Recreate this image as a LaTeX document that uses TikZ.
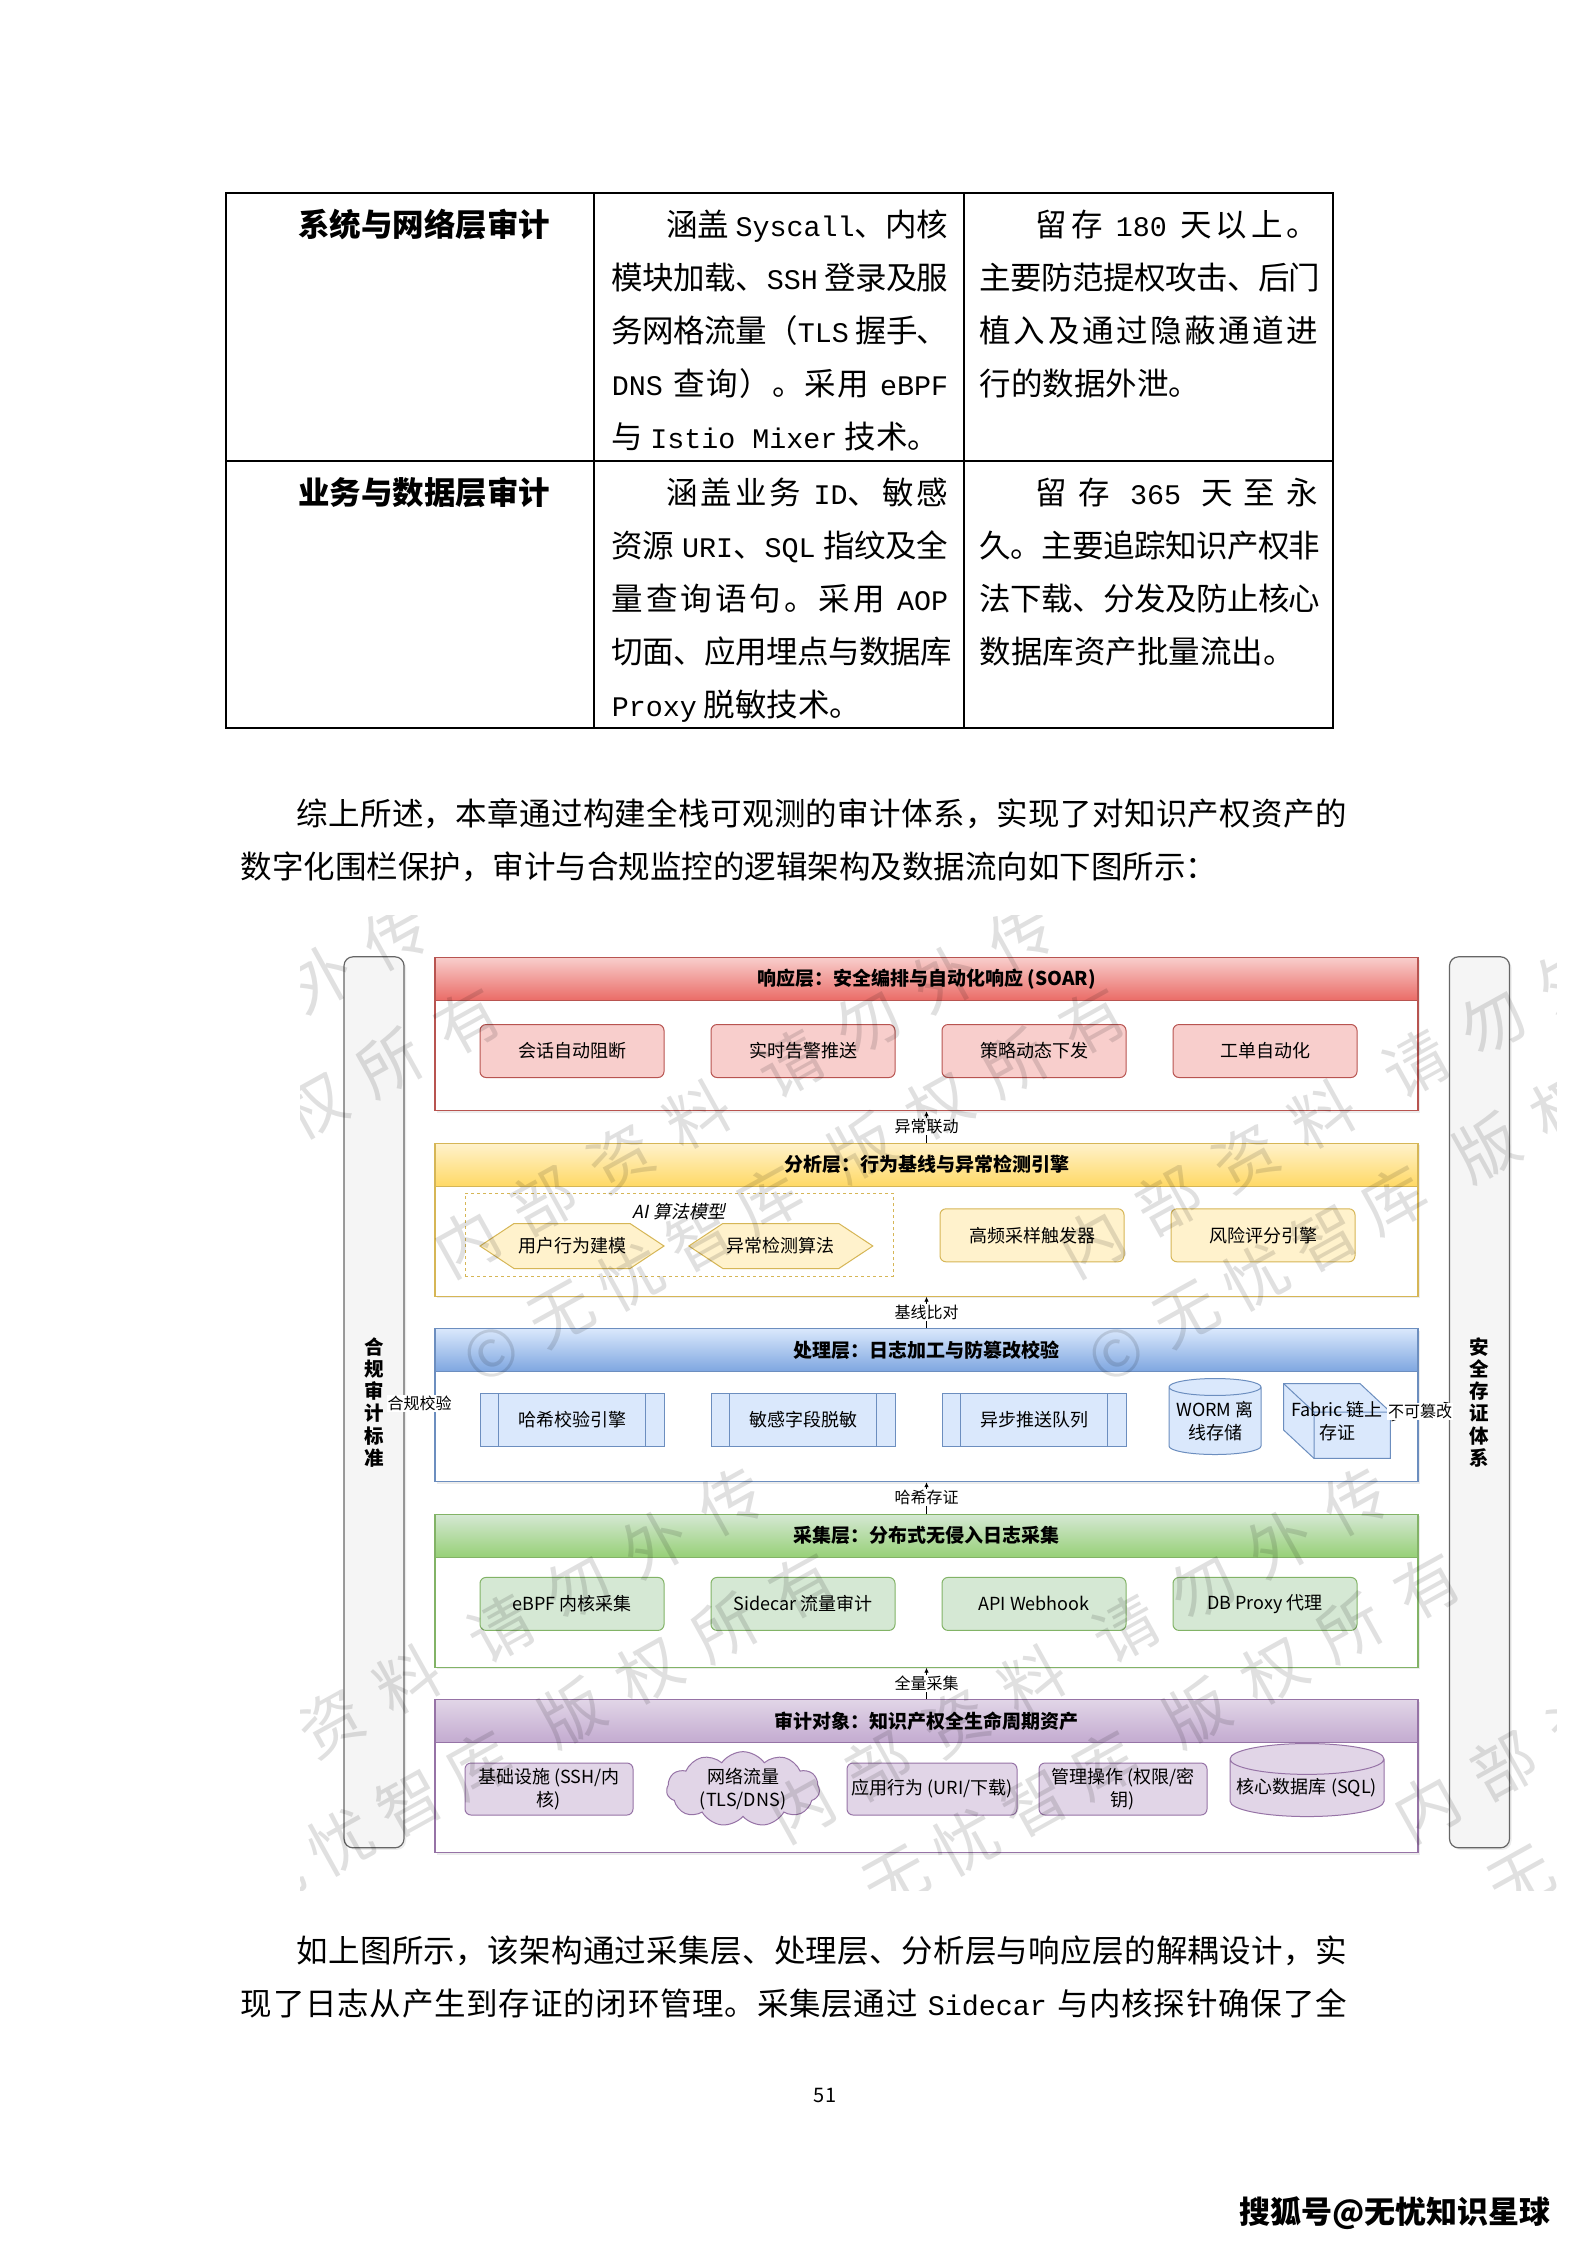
\documentclass[tikz,border=0pt]{standalone}
\usepackage{fontspec}
\setmainfont{Noto Sans CJK SC}
\newfontfamily\latinmono{Liberation Mono}[Scale=0.9]
\newfontfamily\dgfont{Noto Sans CJK SC}
\newfontfamily\dgslant{Noto Sans CJK SC}[FakeSlant=0.2]
\usetikzlibrary{arrows.meta,positioning,shapes.geometric,shapes.symbols,shadows}
% classes for CJK glyphs, so that justified lines spread evenly
\count255="4E00
\loop
  \XeTeXcharclass\count255=1
  \advance\count255 by 1
\ifnum\count255<"A000 \repeat
\XeTeXcharclass"3001=3 \XeTeXcharclass"3002=3 \XeTeXcharclass"FF0C=3
\XeTeXcharclass"FF1A=3 \XeTeXcharclass"FF09=3 \XeTeXcharclass"FF08=2
\XeTeXinterchartokenstate=1
\XeTeXinterchartoks 1 1 = {\hskip 0pt plus 3pt minus 0.6pt}
\XeTeXinterchartoks 1 2 = {\hskip 0pt plus 3pt minus 0.6pt}
\XeTeXinterchartoks 1 3 = {\hskip 0pt plus 3pt minus 0.6pt}
\XeTeXinterchartoks 3 1 = {\hskip 0pt plus 3pt minus 0.6pt}
\XeTeXinterchartoks 2 1 = {\hskip 0pt plus 3pt minus 0.6pt}
\XeTeXinterchartoks 3 3 = {\hskip 0pt plus 3pt minus 0.6pt}
\XeTeXinterchartoks 3 2 = {\hskip 0pt plus 3pt minus 0.6pt}
\definecolor{RespFill}{HTML}{F8CECC}
\definecolor{RespDark}{HTML}{EA6B66}
\definecolor{RespLine}{HTML}{B85450}
\definecolor{AnaFill}{HTML}{FFF2CC}
\definecolor{AnaDark}{HTML}{FFD966}
\definecolor{AnaLine}{HTML}{D6B656}
\definecolor{ProcFill}{HTML}{DAE8FC}
\definecolor{ProcDark}{HTML}{7EA6E0}
\definecolor{ProcLine}{HTML}{6C8EBF}
\definecolor{CollFill}{HTML}{D5E8D4}
\definecolor{CollDark}{HTML}{97D077}
\definecolor{CollLine}{HTML}{82B366}
\definecolor{ObjFill}{HTML}{E1D5E7}
\definecolor{ObjDark}{HTML}{C3ABD0}
\definecolor{ObjLine}{HTML}{9673A6}
\definecolor{BarFill}{HTML}{F5F5F5}
\definecolor{BarLine}{HTML}{666666}
\newcommand{\en}[1]{{\latinmono #1}}
\newcommand{\jl}[2]{\makebox[#1pt][s]{\spaceskip=0.3em plus 3pt minus 0.1em #2}}

\begin{document}
\begin{tikzpicture}[x=1pt, y=-1pt, >={Latex[length=5pt,width=4.5pt]}, node distance=46pt]
    \tikzstyle{bodyline}=[inner sep=0pt, anchor=base west, font=\fontsize{31.5}{53}\selectfont]
    \tikzstyle{tabline}=[line width=1.4pt]
    \tikzstyle{layer}=[draw, line width=1.2pt, fill=white, minimum width=983pt, minimum height=153pt, anchor=north, inner sep=0pt, drop shadow={opacity=0.15, shadow xshift=2pt, shadow yshift=-2pt}]
    \tikzstyle{layerhead}=[draw, line width=1.2pt, minimum width=983pt, minimum height=43pt, anchor=north, inner sep=0pt, font=\dgfont\bfseries\fontsize{19}{22}\selectfont]
    \tikzstyle{card}=[draw, line width=1pt, rounded corners=6pt, minimum width=184pt, minimum height=53pt, inner sep=2pt, align=center, font=\dgfont\fontsize{18}{23}\selectfont]
    \tikzstyle{respcard}=[card, fill=RespFill, draw=RespLine]
    \tikzstyle{anacard}=[card, fill=AnaFill, draw=AnaLine]
    \tikzstyle{collcard}=[card, fill=CollFill, draw=CollLine]
    \tikzstyle{objcard}=[card, fill=ObjFill, draw=ObjLine, minimum width=168pt, minimum height=52pt]
    \tikzstyle{hexcard}=[card, signal, signal to=east and west, signal pointer angle=67, sharp corners, fill=AnaFill, draw=AnaLine, minimum height=45pt]
    \tikzstyle{proccard}=[card, sharp corners, fill=ProcFill, draw=ProcLine, path picture={
        \draw[ProcLine, line width=1pt] ([xshift=18.4pt]path picture bounding box.north west) -- ([xshift=18.4pt]path picture bounding box.south west)
            ([xshift=-18.4pt]path picture bounding box.north east) -- ([xshift=-18.4pt]path picture bounding box.south east);}]
    \tikzstyle{dbcyl}=[card, sharp corners, cylinder, shape border rotate=90, aspect=0.22, inner sep=0pt]
    \tikzstyle{cubecard}=[card, draw=none, sharp corners, minimum width=108pt, minimum height=76pt, inner sep=0pt, path picture={
        \filldraw[fill=ProcFill, draw=ProcLine, line width=1pt]
            ([shift={(0.6pt,-0.6pt)}]path picture bounding box.north west) -- ([shift={(-31pt,-0.6pt)}]path picture bounding box.north east)
            -- ([shift={(-0.6pt,-29pt)}]path picture bounding box.north east) -- ([shift={(-0.6pt,0.6pt)}]path picture bounding box.south east)
            -- ([shift={(31pt,0.6pt)}]path picture bounding box.south west) -- ([shift={(0.6pt,29pt)}]path picture bounding box.south west) -- cycle;
        \draw[ProcLine, line width=1pt]
            ([shift={(0.6pt,-0.6pt)}]path picture bounding box.north west) -- ([shift={(31pt,-29pt)}]path picture bounding box.north west)
            -- ([shift={(-0.6pt,-29pt)}]path picture bounding box.north east)
            ([shift={(31pt,-29pt)}]path picture bounding box.north west) -- ([shift={(31pt,0.6pt)}]path picture bounding box.south west);}]
    \tikzstyle{sidebar}=[draw=BarLine, fill=BarFill, line width=1.2pt, rounded corners=9pt, minimum width=60pt, minimum height=891pt, inner sep=0pt, align=center, font=\dgfont\bfseries\fontsize{19.5}{22.2}\selectfont, drop shadow={opacity=0.15, shadow xshift=2pt, shadow yshift=-2pt}]
    \tikzstyle{flow}=[->, line width=0.8pt]
    \tikzstyle{flowlabel}=[fill=white, inner sep=1pt, font=\dgfont\fontsize{16}{18}\selectfont]
    \tikzstyle{wmark}=[inner sep=0pt, rotate=29, text=black, text opacity=0.12, font=\dgfont\fontsize{64}{64}\selectfont]

    \useasboundingbox (0,0) rectangle (1587,2245);
    \fill[white] (0,0) rectangle (1587,2245);

    % table
    \draw[tabline] (226,193) rectangle (1333,728);
    \draw[tabline] (226,461) -- (1333,461);
    \draw[tabline] (594,193) -- (594,728);
    \draw[tabline] (964,193) -- (964,728);
    \node[bodyline, font=\fontsize{31.5}{53}\selectfont\bfseries] (sysname) at (298,236.9) {系统与网络层审计};
    \node[bodyline] (sysa) at (666,236.9) {\jl{282}{涵盖 \en{Syscall}、内核}};
    \node[bodyline] (sysb) at (611.6,289.9) {\jl{336.4}{模块加载、\en{SSH} 登录及服}};
    \node[bodyline] (sysc) at (611.6,342.9) {\jl{336.4}{务网格流量（\en{TLS} 握手、}};
    \node[bodyline] (sysd) at (611.6,395.9) {\jl{336.4}{\en{DNS} 查询）。采用 \en{eBPF}}};
    \node[bodyline] (syse) at (611.6,448.9) {与 \en{Istio Mixer} 技术。};
    \node[bodyline] (sysr1) at (1035.5,236.9) {\jl{282.2}{留存 \en{180} 天以上。}};
    \node[bodyline] (sysr2) at (979.7,289.9) {\jl{338}{主要防范提权攻击、后门}};
    \node[bodyline] (sysr3) at (979.7,342.9) {\jl{338}{植入及通过隐蔽通道进}};
    \node[bodyline] (sysr4) at (979.7,395.9) {行的数据外泄。};
    \node[bodyline, font=\fontsize{31.5}{53}\selectfont\bfseries] (bizname) at (298,504.7) {业务与数据层审计};
    \node[bodyline] (biza) at (666,504.7) {\jl{282}{涵盖业务 \en{ID}、敏感}};
    \node[bodyline] (bizb) at (611.6,557.7) {\jl{336.4}{资源 \en{URI}、\en{SQL} 指纹及全}};
    \node[bodyline] (bizc) at (611.6,610.7) {\jl{336.4}{量查询语句。采用 \en{AOP}}};
    \node[bodyline] (bizd) at (611.6,663.7) {\jl{336.4}{切面、应用埋点与数据库}};
    \node[bodyline] (bize) at (611.6,716.7) {\en{Proxy} 脱敏技术。};
    \node[bodyline] (bizr1) at (1035.5,504.7) {\jl{282.2}{留存 \en{365} 天至永}};
    \node[bodyline] (bizr2) at (979.7,557.7) {\jl{338}{久。主要追踪知识产权非}};
    \node[bodyline] (bizr3) at (979.7,610.7) {\jl{338}{法下载、分发及防止核心}};
    \node[bodyline] (bizr4) at (979.7,663.7) {数据库资产批量流出。};

    % paragraphs
    \node[bodyline] (introa) at (296.5,825.5) {\jl{1050}{综上所述，本章通过构建全栈可观测的审计体系，实现了对知识产权资产的}};
    \node[bodyline] (introb) at (240.6,878.5) {数字化围栏保护，审计与合规监控的逻辑架构及数据流向如下图所示：};
    \node[bodyline] (outroa) at (296.5,1962.8) {\jl{1050}{如上图所示，该架构通过采集层、处理层、分析层与响应层的解耦设计，实}};
    \node[bodyline] (outrob) at (240.6,2015.8) {\jl{1106}{现了日志从产生到存证的闭环管理。采集层通过 \en{Sidecar} 与内核探针确保了全}};
    \node[font=\fontsize{20}{24}\selectfont] (pagenum) at (825,2095.5) {51};
    \node[anchor=west, inner sep=0pt, font=\dgfont\bfseries\fontsize{31}{34}\selectfont] (sohu) at (1239,2213) {搜狐号@无忧知识星球};

    % side bars
    \node[sidebar] (lbar) at (374,1402.3) {合\\规\\审\\计\\标\\准};
    \node[sidebar] (rbar) at (1479.5,1402.3) {安\\全\\存\\证\\体\\系};

    % layers
    \node[layer, draw=RespLine] (resp) at (926.5,957) {};
    \node[layerhead, draw=RespLine, top color=RespFill, bottom color=RespDark] (respH) at (resp.north) {响应层：安全编排与自动化响应 (SOAR)};
    \node[layer, draw=AnaLine, below=31.3pt of resp] (ana) {};
    \node[layerhead, draw=AnaLine, top color=AnaFill, bottom color=AnaDark] (anaH) at (ana.north) {分析层：行为基线与异常检测引擎};
    \node[layer, draw=ProcLine, below=31.3pt of ana] (proc) {};
    \node[layerhead, draw=ProcLine, top color=ProcFill, bottom color=ProcDark] (procH) at (proc.north) {处理层：日志加工与防篡改校验};
    \node[layer, draw=CollLine, below=31.3pt of proc] (coll) {};
    \node[layerhead, draw=CollLine, top color=CollFill, bottom color=CollDark] (collH) at (coll.north) {采集层：分布式无侵入日志采集};
    \node[layer, draw=ObjLine, below=31.3pt of coll] (obj) {};
    \node[layerhead, draw=ObjLine, top color=ObjFill, bottom color=ObjDark] (objH) at (obj.north) {审计对象：知识产权全生命周期资产};

    % response layer
    \node[respcard] (block) at (572,1051) {会话自动阻断};
    \node[respcard, right=of block] (alert) {实时告警推送};
    \node[respcard, right=of alert] (policy) {策略动态下发};
    \node[respcard, right=of policy] (ticket) {工单自动化};

    % analysis layer
    \node[draw=AnaLine, dashed, line width=1pt, minimum width=428pt, minimum height=83pt] (aigroup) at (679,1234.5) {};
    \node[below=10pt of aigroup.north, inner sep=1pt, font=\dgslant\fontsize{18}{22}\selectfont] (ailabel) {AI 算法模型};
    \node[hexcard] (usermodel) at (572,1246) {用户行为建模};
    \node[hexcard, right=23pt of usermodel] (anomaly) {异常检测算法};
    \node[anacard] (sampler) at (1032,1235.3) {高频采样触发器};
    \node[anacard, right=of sampler] (risk) {风险评分引擎};

    % processing layer
    \node[proccard] (hash) at (572,1419.6) {哈希校验引擎};
    \node[proccard, right=of hash] (desens) {敏感字段脱敏};
    \node[proccard, right=of desens] (queue) {异步推送队列};
    \node[dbcyl, fill=ProcFill, draw=ProcLine, minimum width=92pt, minimum height=76pt] (worm) at (1215,1421) {WORM 离\\线存储};
    \node[cubecard] (fabric) at (1337,1421) {Fabric 链上\\存证};

    % collection layer
    \node[collcard] (ebpf) at (572,1603.9) {eBPF 内核采集};
    \node[collcard, right=of ebpf] (sidecar) {Sidecar 流量审计};
    \node[collcard, right=of sidecar] (webhook) {API Webhook};
    \node[collcard, right=of webhook] (dbproxy) {DB Proxy 代理};

    % audit objects
    \node[objcard] (infra) at (549,1789) {基础设施 (SSH/内\\核)};
    \node[card, cloud, cloud puffs=11, cloud puff arc=110, cloud ignores aspect, sharp corners, fill=ObjFill, draw=ObjLine, minimum width=153pt, minimum height=68pt, inner sep=0pt] (netflow) at (743,1789) {网络流量\\(TLS/DNS)};
    \node[objcard, minimum width=170pt] (appbeh) at (932,1789) {应用行为 (URI/下载)};
    \node[objcard] (admin) at (1123,1789) {管理操作 (权限/密\\钥)};
    \node[dbcyl, fill=ObjFill, draw=ObjLine, minimum width=154pt, minimum height=73pt] (coredb) at (1307,1788) {核心数据库 (SQL)};

    % flows between layers
    \draw[flow] (ana.north) -- node[flowlabel] {异常联动} (resp.south);
    \draw[flow] (proc.north) -- node[flowlabel] {基线比对} (ana.south);
    \draw[flow] (coll.north) -- node[flowlabel] {哈希存证} (proc.south);
    \draw[flow] (obj.north) -- node[flowlabel] {全量采集} (coll.south);
    \draw[flow] (lbar.east) -- node[flowlabel] {合规校验} (proc.west);
    \draw[flow] (fabric.east) -- node[flowlabel] {不可篡改} (rbar.west);

    % watermark over the figure
    \begin{scope}
        \clip (300,915) rectangle (1556,1890);
        \foreach \tx/\ty in {-158/1243, 467/1243, 1092/1243, 177/1808, 802/1808, 1427/1808} {
            \foreach \ch/\s/\ox/\oy in {内/0/0/0, 部/1/0/0, 资/2/0/0, 料/3/0/0, 请/4.2/0/0, 勿/5.2/0/0, 外/6.2/0/0, 传/7.2/0/0,
                    ©/0/25/110, 无/0.9/25/110, 忧/1.8/25/110, 智/2.7/25/110, 库/3.6/25/110, 版/4.8/25/110, 权/5.8/25/110, 所/6.8/25/110, 有/7.8/25/110} {
                \pgfmathsetmacro{\wx}{\tx+\ox+\s*88*cos(29)}
                \pgfmathsetmacro{\wy}{\ty+\oy-\s*88*sin(29)}
                \pgfmathtruncatemacro{\wshow}{(\wx>262)&&(\wx<1594)&&(\wy>877)&&(\wy<1928)}
                \ifnum\wshow=1 \node[wmark] at (\wx,\wy) {\ch}; \fi
            }
        }
    \end{scope}
\end{tikzpicture}
\end{document}
